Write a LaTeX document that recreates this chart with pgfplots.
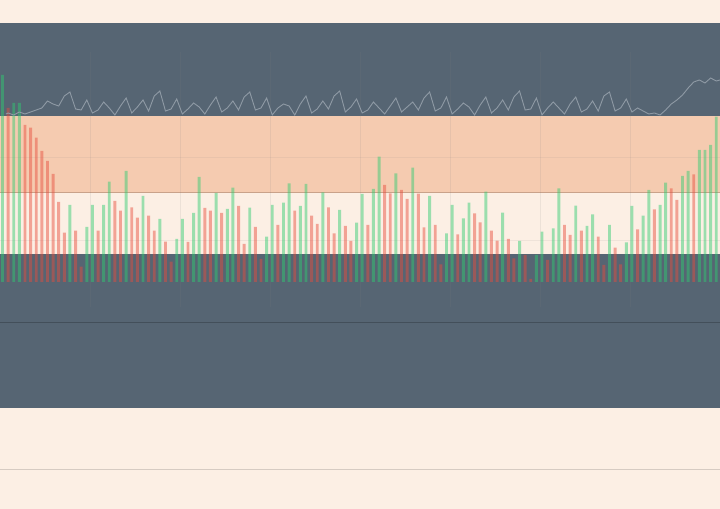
\documentclass[border=0pt]{standalone}
\usepackage{pgfplots}
\pgfplotsset{compat=1.18}
\usepackage{pgfplotstable}

\definecolor{cream}{HTML}{FCEFE4}
\definecolor{slate}{HTML}{566573}
\definecolor{peach}{HTML}{F5CBB0}
\definecolor{barg}{HTML}{2ECC71}
\definecolor{barr}{HTML}{E74C3C}
\definecolor{linegray}{HTML}{8F9AA5}
\definecolor{edgebrown}{HTML}{C9A28A}
\definecolor{darkrule}{HTML}{434F5A}
\definecolor{lightrule}{HTML}{D6CBC2}

% bar tops in image rows (bars stand on row 282)
\pgfplotstableread{
x top
0 75
2 103
3 103
12 205
15 227
16 205
18 205
19 181.7
22 171
25 196
28 219
31 239
32 219
34 213
35 177
38 193
40 209
41 187.7
44 207.7
47 236.7
48 205
50 202.7
51 183.3
53 206
54 184
57 192.3
60 210
63 222.7
64 194
66 189
67 156.7
70 173.3
73 167.7
76 196
79 233.3
80 205
82 218.3
83 202.7
86 191.7
89 212.7
92 241
95 255
96 231.7
98 228.3
99 188.3
102 205.7
104 226
105 214.3
108 225
111 242.3
112 206
114 215.7
115 190
117 205
118 182.7
121 176
122 171
124 150
125 150
126 145
127 116.7
}\greenbars

\pgfplotstableread{
x top
1 108
4 125
5 127.7
6 137.7
7 151
8 161
9 174
10 202
11 232.7
13 230.7
14 266.7
17 230.7
20 201
21 210.7
23 207.3
24 217.7
26 215.7
27 230.7
29 241.7
30 261.7
33 242
36 208
37 210.7
39 213
42 206
43 244
45 227
46 259
49 225
52 210.7
55 215.7
56 224
58 207.3
59 233.3
61 226
62 241
65 225
68 185
69 193.3
71 190
72 199
74 193.7
75 227.3
77 225
78 264.3
81 234.3
84 213.3
85 222.3
87 230.7
88 240.7
90 239
91 258.3
93 255
94 279
97 260
100 225
101 235
103 230.7
106 236.7
107 265
109 247.7
110 264.3
113 229.3
116 209.3
119 188.3
120 200
123 174.3
}\redbars

% grey line, image rows
\pgfplotstableread{
x y
0.62 114
1 113
2 115
3 112
4 114
5 112
6 110
7 108
8 101
9 104
10 106
11 96
12 92
13 109
14 110
15 100
16 113
17 110
18 102
19 108
20 115
21 106
22 98
23 113
24 107
25 100
26 111
27 96
28 91
29 111
30 109
31 99
32 114
33 109
34 103
35 107
36 114
37 105
38 97
39 112
40 108
41 101
42 110
43 97
44 92
45 110
46 108
47 98
48 115
49 108
50 104
51 106
52 115
53 104
54 96
55 113
56 109
57 101
58 109
59 96
60 91
61 112
62 107
63 99
64 113
65 110
66 102
67 108
68 114
69 106
70 98
71 112
72 107
73 102
74 110
75 98
76 92
77 111
78 108
79 97
80 114
81 109
82 103
83 107
84 115
85 105
86 97
87 113
88 108
89 100
90 110
91 97
92 91
93 110
94 109
95 98
96 115
97 108
98 102
99 108
100 114
101 104
102 97
103 112
104 109
105 101
106 111
107 96
108 92
109 111
110 108
111 99
112 112
113 108
114 111
115 114
116 113
117 115
118 110
119 104
120 100
121 95
122 88
123 82
124 80
125 83
126 78
127 81
127.67 80
}\linedata

\begin{document}
\begin{tikzpicture}
\begin{axis}[
  scale only axis,
  width=720bp, height=509bp,
  xmin=-0.445, xmax=127.67,
  ymin=-227, ymax=282,
  hide axis,
  clip=true,
]
% bands
\addplot[fill=cream, draw=none] coordinates {(-2,-230) (130,-230) (130,290) (-2,290)} -- cycle;
\addplot[fill=slate, draw=none] coordinates {(-2,166) (130,166) (130,259) (-2,259)} -- cycle;
\addplot[fill=peach, draw=none] coordinates {(-2,89) (130,89) (130,166) (-2,166)} -- cycle;
\addplot[fill=slate, draw=none] coordinates {(-2,-126) (130,-126) (130,28) (-2,28)} -- cycle;
% rules
\addplot[edgebrown, line width=1bp] coordinates {(-2,89) (130,89)};
\addplot[darkrule, line width=1bp] coordinates {(-2,-41) (130,-41)};
\addplot[lightrule, line width=1bp] coordinates {(-2,-188) (130,-188)};
\addplot[gray, opacity=0.1, line width=0.8bp] coordinates {(-2,125) (130,125)};
\addplot[gray, opacity=0.1, line width=0.8bp] coordinates {(-2,42) (130,42)};
% faint vertical grid
\foreach \gx in {15.57,31.58,47.6,63.61,79.63,95.64,111.66}{
  \edef\tmp{\noexpand\addplot[gray, opacity=0.12, line width=0.8bp] coordinates {(\gx,230) (\gx,-25)};}
  \tmp
}
% bars
\addplot[ybar, bar width=0.52, bar shift=0pt, fill=barg, fill opacity=0.47, draw=none]
  table[x=x, y expr=282-\thisrow{top}] {\greenbars};
\addplot[ybar, bar width=0.52, bar shift=0pt, fill=barr, fill opacity=0.47, draw=none]
  table[x=x, y expr=282-\thisrow{top}] {\redbars};
% line
\addplot[linegray, line width=0.9bp, mark=none]
  table[x=x, y expr=282-\thisrow{y}] {\linedata};
\end{axis}
\end{tikzpicture}
\end{document}
